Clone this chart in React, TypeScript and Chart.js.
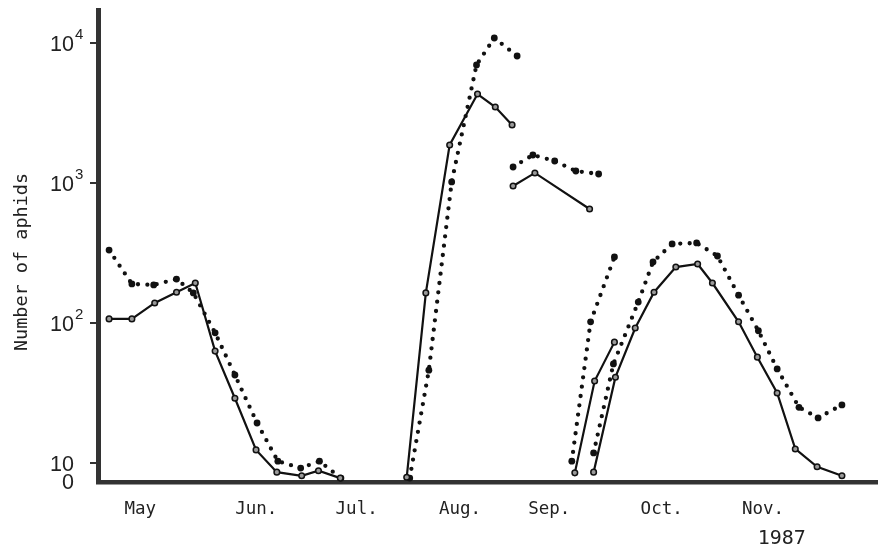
import React, { useEffect, useRef } from "react";
import { Chart, registerables } from "chart.js";

Chart.register(...registerables);

// x = day of year 1987, y = number of aphids (log axis; bottom of axis = "0")
const solidMayJul: [number, number][] = [
  [116.0, 107], [122.8, 107], [129.6, 139], [136.1, 166], [141.7, 193], [147.6, 63],
  [153.5, 29], [159.8, 12.4], [166.0, 8.6], [173.4, 8.1], [178.4, 8.8], [184.9, 7.8],
];
const solidAug: [number, number][] = [
  [204.7, 7.9], [210.4, 164], [217.5, 1870], [225.8, 4320], [231.1, 3490], [236.1, 2600],
];
const solidSep: [number, number][] = [[236.4, 952], [242.9, 1180], [259.2, 652]];
const solidSepRise: [number, number][] = [[254.8, 8.5], [260.7, 38.5], [266.6, 73]];
const solidOctNov: [number, number][] = [
  [260.4, 8.6], [266.9, 41], [272.8, 92], [278.4, 166], [284.9, 251], [291.4, 264],
  [295.8, 193], [303.6, 102], [309.2, 57], [315.1, 31.6], [320.5, 12.6], [327.0, 9.4], [334.4, 8.1],
];

const dottedMayJul: [number, number][] = [
  [116.0, 332], [122.8, 190], [129.3, 187], [136.1, 206], [141.1, 164], [147.6, 85],
  [153.5, 42.5], [160.1, 19.3], [166.3, 10.3], [173.1, 9.2], [178.7, 10.3], [185.1, 7.8],
];
const dottedAug: [number, number][] = [
  [205.6, 7.8], [211.3, 46], [218.1, 1017], [225.5, 6970], [230.8, 10860], [237.6, 8075],
];
const dottedSep: [number, number][] = [
  [236.4, 1301], [242.3, 1585], [248.8, 1436], [255.1, 1218], [261.9, 1159],
];
const dottedSepRise: [number, number][] = [[253.9, 10.3], [259.5, 102], [266.6, 296]];
const dottedOctNov: [number, number][] = [
  [260.4, 11.8], [266.3, 51], [273.7, 141], [278.1, 273], [283.8, 367], [291.1, 373],
  [297.3, 301], [303.6, 158], [309.5, 88], [315.1, 47], [321.6, 25], [327.3, 21], [334.4, 26],
];

const monthLabels = ["May", "Jun.", "Jul.", "Aug.", "Sep.", "Oct.", "Nov."];
const monthLabelDays = [120.9, 153.9, 183.8, 214.6, 241.2, 274.7, 304.9];
const yearLabel = "1987";
const yearLabelDay = 309.6;

const yTickValues = [10, 100, 1000, 10000];
const yTickExponents = ["", "2", "3", "4"];
const zeroLabel = "0";
const yAxisTitle = "Number of aphids";

const X_MIN = 112.7;
const X_MAX = 345;
const Y_MIN = 7.315;
const Y_MAX = 17205;

const INK = "#111";
const AXIS = "#333";

const toPoints = (seg: [number, number][]) => seg.map(([x, y]) => ({ x, y }));

const solidStyle = {
  borderColor: INK,
  borderWidth: 2.2,
  pointRadius: 2.8,
  pointBackgroundColor: "#9a9a9a",
  pointBorderColor: INK,
  pointBorderWidth: 1.5,
  tension: 0,
  clip: false as const,
};

const dottedStyle = {
  borderColor: INK,
  borderWidth: 4.3,
  borderDash: [0, 9.4],
  borderCapStyle: "round" as const,
  pointRadius: 3.4,
  pointBackgroundColor: INK,
  pointBorderWidth: 0,
  tension: 0,
  clip: false as const,
};

const textPlugin = {
  id: "customText",
  afterDraw(chart: any) {
    const { ctx } = chart;
    const x = chart.scales.x;
    const y = chart.scales.y;
    ctx.save();
    ctx.fillStyle = "#222";
    ctx.textBaseline = "alphabetic";

    // y tick labels
    yTickValues.forEach((v, i) => {
      const py = y.getPixelForValue(v);
      ctx.font = '21.5px "Liberation Sans", Arial, sans-serif';
      ctx.textAlign = "right";
      ctx.fillText("10", 74, py + 8.5);
      const exp = yTickExponents[i];
      if (exp) {
        ctx.font = '15px "Liberation Sans", Arial, sans-serif';
        ctx.textAlign = "left";
        ctx.fillText(exp, 75, py - 4);
      }
    });
    ctx.font = '21.5px "Liberation Sans", Arial, sans-serif';
    ctx.textAlign = "right";
    ctx.fillText(zeroLabel, 74, y.getPixelForValue(Y_MIN) + 7);

    // month labels
    ctx.font = '17.5px "DejaVu Sans Mono", monospace';
    ctx.textAlign = "left";
    monthLabels.forEach((m, i) => {
      ctx.fillText(m, x.getPixelForValue(monthLabelDays[i]) - 1, 514);
    });
    ctx.font = '20px "DejaVu Sans Mono", monospace';
    ctx.fillText(yearLabel, x.getPixelForValue(yearLabelDay) - 1, 544);

    // y axis title
    ctx.translate(26.5, 262);
    ctx.rotate(-Math.PI / 2);
    ctx.font = '18.5px "DejaVu Sans Mono", monospace';
    ctx.textAlign = "center";
    ctx.fillText(yAxisTitle, 0, 0);
    ctx.restore();
  },
};

export default function App() {
  const canvasRef = useRef<HTMLCanvasElement | null>(null);

  useEffect(() => {
    if (!canvasRef.current) return;
    const chart = new Chart(canvasRef.current, {
      type: "line",
      data: {
        datasets: [
          { label: "solid May-Jul", data: toPoints(solidMayJul), ...solidStyle },
          { label: "solid Aug", data: toPoints(solidAug), ...solidStyle },
          { label: "solid Sep", data: toPoints(solidSep), ...solidStyle },
          { label: "solid Sep rise", data: toPoints(solidSepRise), ...solidStyle },
          { label: "solid Oct-Nov", data: toPoints(solidOctNov), ...solidStyle },
          { label: "dotted May-Jul", data: toPoints(dottedMayJul), ...dottedStyle },
          { label: "dotted Aug", data: toPoints(dottedAug), ...dottedStyle },
          { label: "dotted Sep", data: toPoints(dottedSep), ...dottedStyle },
          { label: "dotted Sep rise", data: toPoints(dottedSepRise), ...dottedStyle },
          { label: "dotted Oct-Nov", data: toPoints(dottedOctNov), ...dottedStyle },
        ] as any,
      },
      options: {
        responsive: false,
        animation: false,
        devicePixelRatio: 1,
        layout: { padding: { top: 10, left: 0, right: 0, bottom: 0 } },
        plugins: {
          legend: { display: false },
          tooltip: { enabled: false },
        },
        scales: {
          x: {
            type: "linear",
            min: X_MIN,
            max: X_MAX,
            ticks: { display: false },
            grid: { display: false, drawTicks: false },
            border: { display: true, width: 4.5, color: AXIS },
            afterFit: (s: any) => {
              s.height = 63;
            },
          },
          y: {
            type: "logarithmic",
            min: Y_MIN,
            max: Y_MAX,
            ticks: { display: false },
            grid: {
              display: true,
              drawOnChartArea: false,
              drawTicks: true,
              tickLength: 8,
              lineWidth: 2,
              color: AXIS,
            },
            border: { display: true, width: 5, color: AXIS },
            afterBuildTicks: (s: any) => {
              s.ticks = yTickValues.map((v) => ({ value: v }));
            },
            afterFit: (s: any) => {
              s.width = 98;
            },
          },
        },
      } as any,
      plugins: [textPlugin],
    });
    return () => chart.destroy();
  }, []);

  return (
    <div style={{ position: "fixed", left: 0, top: 0, width: 883, height: 545, background: "#fff" }}>
      <canvas ref={canvasRef} width={883} height={545} style={{ display: "block" }} />
    </div>
  );
}
